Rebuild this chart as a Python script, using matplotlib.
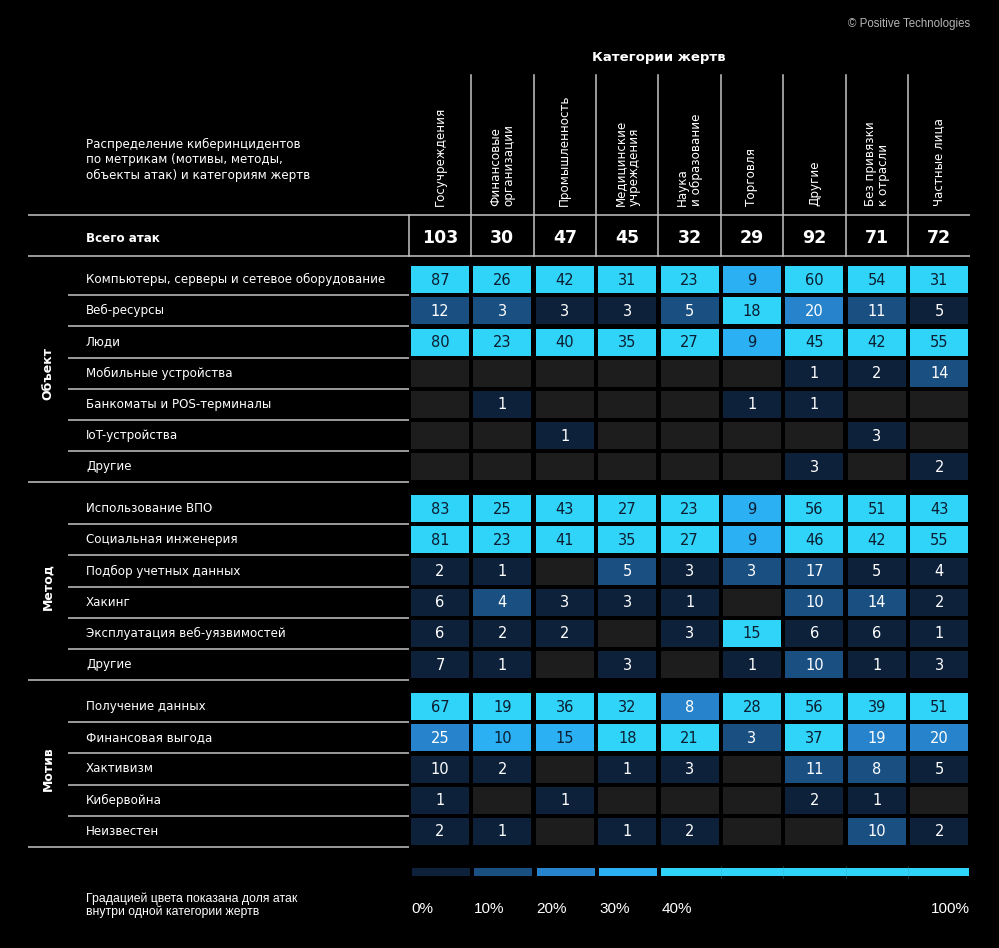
# Imports
import matplotlib
matplotlib.use("Agg")
import matplotlib.pyplot as plt
from matplotlib.patches import Rectangle
import numpy as np

# Data
Categories = ["Госучреждения", "Финансовые\nорганизации", "Промышленность",
              "Медицинские\nучреждения", "Наука\nи образование", "Торговля",
              "Другие", "Без привязки\nк отрасли", "Частные лица"]
Totals = [103, 30, 47, 45, 32, 29, 92, 71, 72]

Groups = ["Объект", "Метод", "Мотив"]

ObjectLabels = ["Компьютеры, серверы и сетевое оборудование", "Веб-ресурсы", "Люди",
                "Мобильные устройства", "Банкоматы и POS-терминалы", "IoT-устройства", "Другие"]
ObjectValues = [[87, 26, 42, 31, 23, 9, 60, 54, 31],
                [12, 3, 3, 3, 5, 18, 20, 11, 5],
                [80, 23, 40, 35, 27, 9, 45, 42, 55],
                [0, 0, 0, 0, 0, 0, 1, 2, 14],
                [0, 1, 0, 0, 0, 1, 1, 0, 0],
                [0, 0, 1, 0, 0, 0, 0, 3, 0],
                [0, 0, 0, 0, 0, 0, 3, 0, 2]]

MethodLabels = ["Использование ВПО", "Социальная инженерия", "Подбор учетных данных",
                "Хакинг", "Эксплуатация веб-уязвимостей", "Другие"]
MethodValues = [[83, 25, 43, 27, 23, 9, 56, 51, 43],
                [81, 23, 41, 35, 27, 9, 46, 42, 55],
                [2, 1, 0, 5, 3, 3, 17, 5, 4],
                [6, 4, 3, 3, 1, 0, 10, 14, 2],
                [6, 2, 2, 0, 3, 15, 6, 6, 1],
                [7, 1, 0, 3, 0, 1, 10, 1, 3]]

MotiveLabels = ["Получение данных", "Финансовая выгода", "Хактивизм", "Кибервойна", "Неизвестен"]
MotiveValues = [[67, 19, 36, 32, 8, 28, 56, 39, 51],
                [25, 10, 15, 18, 21, 3, 37, 19, 20],
                [10, 2, 0, 1, 3, 0, 11, 8, 5],
                [1, 0, 1, 0, 0, 0, 2, 1, 0],
                [2, 1, 0, 1, 2, 0, 0, 10, 2]]

BinEdges = [0.0, 0.10, 0.20, 0.30, 0.40, 1.0]
BinLabels = ["0%", "10%", "20%", "30%", "40%", "100%"]

# Styling
Background = "#000000"
BinColors = ["#0e213b", "#1a4f82", "#2784cc", "#2bb0f4", "#30d4f9"]
EmptyColor = "#1d1d1d"
LineColor = "#c4c4c4"
DarkText = "#0b1d30"
Font = "DejaVu Sans"

# Layout (pixels)
Width, Height = 999, 948
ColLeft = 408.8
ColPitch = 62.4
RowPitch = 31.2
CellW, CellH = 58.0, 27.0
LabelX = 86
LeftLong = 28
LeftShort = 68
GroupStarts = [264, 493, 691]

fig = plt.figure(figsize=(Width / 100, Height / 100), dpi=100, facecolor=Background)
ax = fig.add_axes([0, 0, 1, 1])
ax.set_xlim(0, Width)
ax.set_ylim(Height, 0)
ax.axis("off")
ax.set_facecolor(Background)


def col_center(i):
    return ColLeft + ColPitch * (i + 0.5)


def bin_index(share):
    for b in range(len(BinColors) - 1, -1, -1):
        if share >= BinEdges[b] - 1e-9:
            return b
    return 0


def hline(y, x0, x1, lw=1.1):
    ax.plot([x0, x1], [y, y], color=LineColor, lw=lw, solid_capstyle="butt")


# Copyright and header
ax.text(970, 24, "© Positive Technologies", color="#b5b5b5", fontsize=8.3,
        family="Liberation Sans", ha="right", va="center")
ax.text(ColLeft + ColPitch * 4, 57, "Категории жертв", color="white", fontsize=9.5,
        fontweight="bold", family=Font, ha="center", va="center")
ax.text(LabelX, 160, "Распределение киберинцидентов\nпо метрикам (мотивы, методы,\nобъекты атак) и категориям жертв",
        color="white", fontsize=8.6, family=Font, ha="left", va="center", linespacing=1.2)

for i, name in enumerate(Categories):
    ax.text(col_center(i), 206, name, color="white", fontsize=8.6, family=Font,
            rotation=90, rotation_mode="anchor", ha="left", va="center",
            multialignment="left", linespacing=1.05)

# Column dividers
for k in range(1, len(Categories)):
    x = ColLeft + ColPitch * k
    ax.plot([x, x], [75, 256], color=LineColor, lw=1.1)
ax.plot([ColLeft, ColLeft], [215, 256], color=LineColor, lw=1.1)

# Totals row
hline(215, LeftLong, 970)
hline(256, LeftLong, 970)
ax.text(LabelX, 238, "Всего атак", color="white", fontsize=8.6, fontweight="bold",
        family=Font, ha="left", va="center")
for i, t in enumerate(Totals):
    ax.text(col_center(i), 238, str(t), color="white", fontsize=12.5, fontweight="bold",
            family=Font, ha="center", va="center")

# Groups
AllLabels = [ObjectLabels, MethodLabels, MotiveLabels]
AllValues = [ObjectValues, MethodValues, MotiveValues]
for g, (name, labels, values) in enumerate(zip(Groups, AllLabels, AllValues)):
    top = GroupStarts[g]
    n = len(labels)
    bottom = top + n * RowPitch
    ax.text(48, (top + bottom) / 2, name, color="white", fontsize=9, fontweight="bold",
            family=Font, rotation=90, ha="center", va="center")
    for r, (lab, row) in enumerate(zip(labels, values)):
        yc = top + RowPitch * (r + 0.5)
        ax.text(LabelX, yc, lab, color="white", fontsize=8.6, family=Font,
                ha="left", va="center")
        if r < n - 1:
            hline(top + RowPitch * (r + 1), LeftShort, ColLeft)
        for i, v in enumerate(row):
            share = v / Totals[i]
            if v == 0:
                color = EmptyColor
            else:
                color = BinColors[bin_index(share)]
            ax.add_patch(Rectangle((col_center(i) - CellW / 2, yc - CellH / 2), CellW, CellH,
                                   facecolor=color, edgecolor="none"))
            if v > 0:
                tc = DarkText if share >= 0.3 else "white"
                ax.text(col_center(i), yc + 0.5, str(v), color=tc, fontsize=10.5,
                        family=Font, ha="center", va="center")
    hline(bottom, LeftLong, ColLeft)

# Legend
ax.text(LabelX, 905, "Градацией цвета показана доля атак\nвнутри одной категории жертв",
        color="white", fontsize=8.8, family="Liberation Sans", ha="left", va="center",
        linespacing=1.1)
LegendCols = [(0, 1), (1, 2), (2, 3), (3, 4), (4, 9)]
for b, (c0, c1) in enumerate(LegendCols):
    x0 = ColLeft + ColPitch * c0 + 3
    x1 = ColLeft + ColPitch * c1 - 1.5
    ax.add_patch(Rectangle((x0, 868), x1 - x0, 8, facecolor=BinColors[b], edgecolor="none"))
for k in range(5, 9):
    x = ColLeft + ColPitch * k
    ax.plot([x, x], [866, 878], color="#27a9c8", lw=0.4, alpha=0.6)
for b, lab in enumerate(BinLabels[:-1]):
    ax.text(ColLeft + ColPitch * b + 3, 909, lab, color="white", fontsize=11,
            family="Liberation Sans", ha="left", va="center")
ax.text(970, 909, BinLabels[-1], color="white", fontsize=11,
        family="Liberation Sans", ha="right", va="center")

plt.savefig("out.png", dpi=100, facecolor=Background)
